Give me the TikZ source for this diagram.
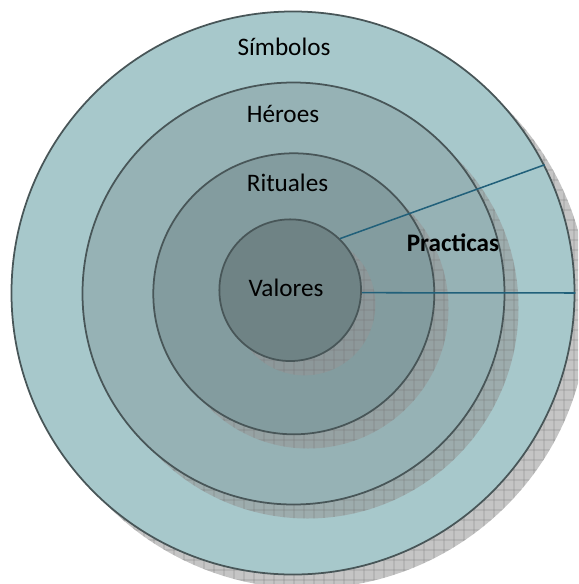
\documentclass[tikz,border=0pt]{standalone}
\usepackage{fontspec}
\setmainfont{Carlito}
\usepackage{tikz}
\usetikzlibrary{positioning,patterns.meta,calc}

\definecolor{simbolosc}{RGB}{167,200,203}
\definecolor{heroesc}{RGB}{150,178,181}
\definecolor{ritualesc}{RGB}{131,156,159}
\definecolor{valoresc}{RGB}{111,131,133}
\definecolor{edgec}{RGB}{72,86,88}
\definecolor{linkc}{RGB}{33,96,122}
\definecolor{shadowc}{RGB}{150,150,150}

\tikzdeclarepattern{
  name=shadowgrid,
  type=uncolored,
  bounding box={(0pt,0pt) and (8.5pt,8.5pt)},
  tile size={(8.5pt,8.5pt)},
  code={\draw[line width=.5pt] (0pt,4.25pt) -- (8.5pt,4.25pt) (4.25pt,0pt) -- (4.25pt,8.5pt);}
}

\begin{document}
\begin{tikzpicture}[
          x=0.03cm, y=-0.03cm,
          ring/.style={circle, draw=edgec, line width=1.5pt, inner sep=0pt},
          ringshadow/.style={circle, inner sep=0pt, fill=shadowc, fill opacity=.55,
            postaction={pattern={shadowgrid}, pattern color=black!55}},
          lbl/.style={font=\fontsize{21.5}{25}\selectfont, text=black},
          link/.style={draw=linkc, line width=1.3pt}
      ]
        \clip (0,0) rectangle (578,584);
        % outer layer
        \node[ringshadow, minimum size=16.89cm] (simbolos-sh) at (307,307) {};
        \node[ring, fill=simbolosc, minimum size=16.89cm] (simbolos) at (293,293) {};
        % second layer
        \node[ringshadow, minimum size=12.66cm] (heroes-sh) at (307.5,307.5) {};
        \node[ring, fill=heroesc, minimum size=12.66cm] (heroes) at (293.5,293.5) {};
        % third layer
        \node[ringshadow, minimum size=8.43cm] (rituales-sh) at (308,308) {};
        \node[ring, fill=ritualesc, minimum size=8.43cm] (rituales) at (293.8,293.8) {};
        % core
        \node[ringshadow, minimum size=4.25cm] (valores-sh) at (304.5,304.5) {};
        \node[ring, fill=valoresc, minimum size=4.25cm] (valores) at (290.2,290.2) {};

        \node[lbl] (simbolos-t) at (284,47) {Símbolos};
        \node[lbl] (heroes-t) at (283,114) {Héroes};
        \node[lbl] (rituales-t) at (287.5,183) {Rituales};
        \node[lbl] (valores-t) at (286,288) {Valores};
        \node[lbl, font=\fontsize{21.5}{25}\selectfont\bfseries] (practicas) at (453,243) {Practicas};

        \draw[link] (valores.46.7) -- (simbolos.27.75);
        \draw[link] (valores.-2.4) -- (simbolos.0);
      \end{tikzpicture}
\end{document}
